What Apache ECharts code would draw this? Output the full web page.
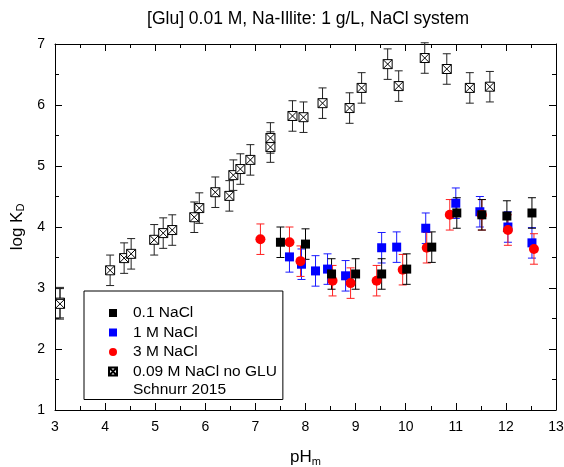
<!DOCTYPE html>
<html><head><meta charset="utf-8">
<script src="https://cdn.jsdelivr.net/npm/echarts@6/dist/echarts.min.js"></script>
<style>html,body{margin:0;padding:0;background:#fff}#c{width:564px;height:467px}</style>
</head><body><div id="c"></div>
<script>
// [pH, logKd, error]
const noGlu = [
  [3.10,2.76,0.25],[3.10,2.74,0.25],[4.10,3.29,0.25],[4.38,3.49,0.25],[4.52,3.56,0.25],
  [4.98,3.79,0.25],[5.16,3.90,0.25],[5.34,3.95,0.25],[5.78,4.16,0.25],[5.88,4.31,0.25],
  [6.20,4.57,0.25],[6.48,4.51,0.25],[6.56,4.85,0.25],[6.70,4.95,0.25],[6.90,5.10,0.25],
  [7.30,5.46,0.25],[7.30,5.31,0.25],[7.74,5.82,0.25],[7.96,5.80,0.25],[8.34,6.03,0.25],
  [8.88,5.95,0.25],[9.12,6.28,0.25],[9.64,6.67,0.25],[9.86,6.31,0.25],[10.38,6.77,0.25],
  [10.82,6.59,0.25],[11.28,6.28,0.25],[11.68,6.30,0.25]
];
const nacl01 = [
  [7.50,3.75,0.25],[8.00,3.72,0.25],[8.52,3.23,0.25],[9.00,3.23,0.25],[9.52,3.23,0.25],
  [10.02,3.31,0.25],[10.52,3.67,0.25],[11.02,4.23,0.25],[11.52,4.20,0.25],[12.02,4.18,0.25],
  [12.52,4.23,0.25]
];
const nacl1 = [
  [7.68,3.51,0.25],[7.92,3.39,0.25],[8.20,3.28,0.25],[8.44,3.31,0.25],[8.80,3.20,0.25],
  [9.52,3.66,0.25],[9.82,3.67,0.25],[10.40,3.98,0.25],[11.00,4.39,0.25],[11.48,4.25,0.25],
  [12.04,4.00,0.25],[12.52,3.74,0.25]
];
const nacl3 = [
  [7.10,3.80,0.25],[7.68,3.75,0.25],[7.90,3.44,0.25],[8.54,3.12,0.25],[8.90,3.08,0.25],
  [9.42,3.12,0.25],[9.94,3.30,0.25],[10.42,3.66,0.25],[10.88,4.20,0.25],[11.52,4.20,0.25],
  [12.04,3.95,0.25],[12.56,3.64,0.25]
];
const names = ['0.1 NaCl','1 M NaCl','3 M NaCl','0.09 M NaCl no GLU'];
const titleText = '[Glu] 0.01 M, Na-Illite: 1 g/L, NaCl system';
const noteText = 'Schnurr 2015';

const FONT = 'Liberation Sans, Arial, sans-serif';
const crossPath = 'path://M0,0H10V10H0Z M0,0L10,10 M10,0L0,10';

function errSeries(data, color){
  return {
    type:'custom', data:data, encode:{x:0,y:1}, silent:true, z:1,
    renderItem:function(params, api){
      const x=api.value(0), y=api.value(1), e=api.value(2);
      const t=api.coord([x,y+e]), b=api.coord([x,y-e]);
      const w=4; const st={stroke:color,lineWidth:1};
      return {type:'group',children:[
        {type:'line',shape:{x1:t[0],y1:t[1],x2:b[0],y2:b[1]},style:st},
        {type:'line',shape:{x1:t[0]-w,y1:t[1],x2:t[0]+w,y2:t[1]},style:st},
        {type:'line',shape:{x1:b[0]-w,y1:b[1],x2:b[0]+w,y2:b[1]},style:st}
      ]};
    }
  };
}

const axisCommon = {
  axisLine:{show:true,lineStyle:{color:'#000',width:1}},
  axisTick:{show:true,inside:true,length:7,lineStyle:{color:'#000'}},
  minorTick:{show:true,splitNumber:2,length:4,lineStyle:{color:'#000'}},
  splitLine:{show:false}
};

const chart = echarts.init(document.getElementById('c'), null, {renderer:'canvas'});
chart.setOption({
  animation:false,
  backgroundColor:'#fff',
  title:{text:titleText,left:303,textAlign:'center',top:5,
    textStyle:{fontFamily:FONT,fontSize:17.5,fontWeight:'normal',color:'#000'}},
  grid:{left:55,right:8,top:44,bottom:57,containLabel:false,outerBoundsMode:'none'},
  xAxis:[
    Object.assign({type:'value',min:3,max:13,interval:1,position:'bottom',
      name:'pH{sub|m}',nameLocation:'middle',nameGap:38,
      nameTextStyle:{fontFamily:FONT,fontSize:17,color:'#000',
        rich:{sub:{fontFamily:FONT,fontSize:11,verticalAlign:'bottom',padding:[8,0,0,0]}}},
      axisLabel:{fontFamily:FONT,fontSize:14,color:'#000',margin:10}},axisCommon),
    Object.assign({type:'value',min:3,max:13,interval:1,position:'top',
      axisLabel:{show:false}},axisCommon)
  ],
  yAxis:[
    Object.assign({type:'value',min:1,max:7,interval:1,position:'left',
      name:'log K{sub|D}',nameLocation:'middle',nameGap:28,
      nameTextStyle:{fontFamily:FONT,fontSize:17,color:'#000',
        rich:{sub:{fontFamily:FONT,fontSize:11,verticalAlign:'bottom',padding:[8,0,0,0]}}},
      axisLabel:{fontFamily:FONT,fontSize:14,color:'#000',margin:10}},axisCommon),
    Object.assign({type:'value',min:1,max:7,interval:1,position:'right',
      axisLabel:{show:false}},axisCommon)
  ],
  legend:{
    data:names, orient:'vertical', left:84, top:291,
    itemWidth:8, itemHeight:8, itemGap:3.5,
    borderColor:'#000', borderWidth:1, borderRadius:0,
    padding:[14,6,20,24],
    textStyle:{fontFamily:FONT,fontSize:15.5,color:'#000',padding:[0,0,0,11]}
  },
  graphic:[{type:'text',left:133,top:382,
    style:{text:noteText,fontFamily:FONT,fontSize:15.5,fill:'#000'}}],
  series:[
    errSeries(noGlu,'#222'),
    {name:names[3],type:'scatter',data:noGlu,symbol:crossPath,symbolSize:9,z:2,
      itemStyle:{color:'#fff',borderColor:'#000',borderWidth:1,opacity:1}},
    errSeries(nacl1,'#1a1aff'),
    {name:names[1],type:'scatter',data:nacl1,symbol:'rect',symbolSize:9,z:3,
      itemStyle:{color:'#0000ff',opacity:1}},
    errSeries(nacl3,'#ff2020'),
    {name:names[2],type:'scatter',data:nacl3,symbol:'circle',symbolSize:10,z:4,
      itemStyle:{color:'#ff0000',opacity:1}},
    errSeries(nacl01,'#000'),
    {name:names[0],type:'scatter',data:nacl01,symbol:'rect',symbolSize:9,z:5,
      itemStyle:{color:'#000',opacity:1}}
  ]
});
</script></body></html>
